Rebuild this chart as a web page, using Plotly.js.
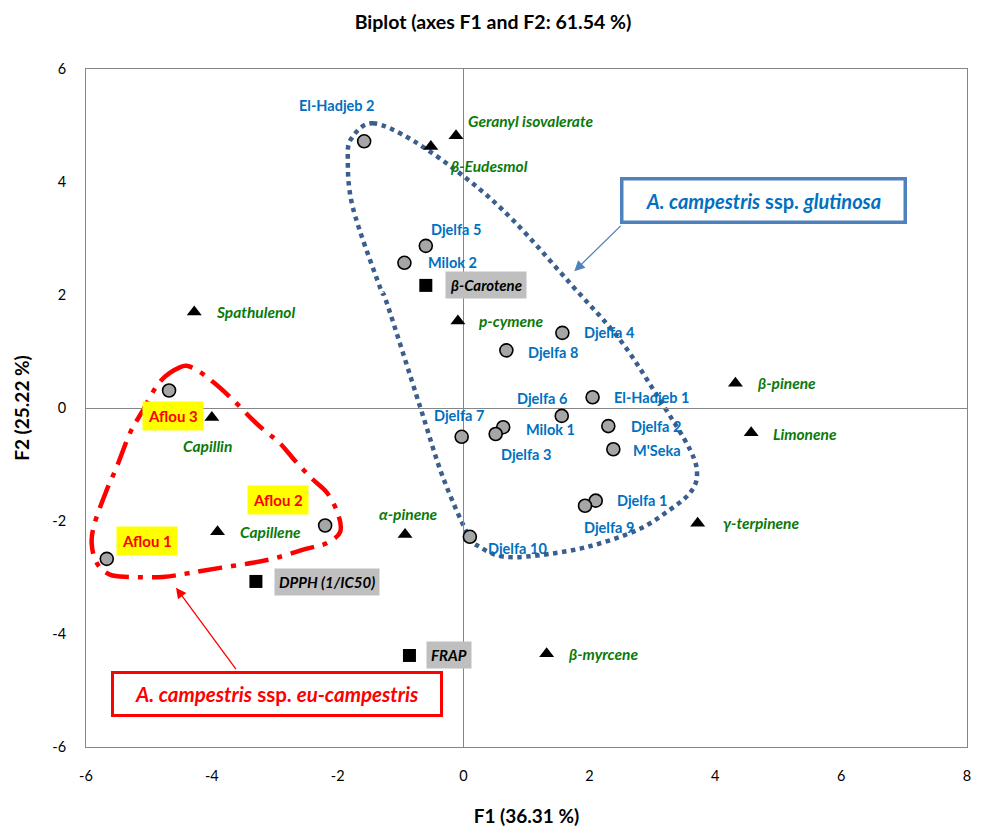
<!DOCTYPE html>
<html>
<head>
<meta charset="utf-8">
<script src="https://cdn.plot.ly/plotly-3.0.1.min.js"></script>
<style>html,body{margin:0;padding:0;background:#fff;}#chart{width:986px;height:827px;}</style>
</head>
<body>
<div id="chart"></div>
<script>
// ---- Data ----
const sampleNames = ["El-Hadjeb 2","Djelfa 5","Milok 2","Djelfa 4","Djelfa 8","El-Hadjeb 1","Djelfa 6","Milok 1","Djelfa 3","Djelfa 7","Djelfa 2","M'Seka","Djelfa 1","Djelfa 9","Djelfa 10","Aflou 3","Aflou 2","Aflou 1"];
const sampleF1 = [-1.58,-0.60,-0.94,1.57,0.68,2.05,1.56,0.63,0.51,-0.03,2.30,2.38,2.10,1.93,0.10,-4.68,-2.20,-5.67];
const sampleF2 = [4.72,2.87,2.57,1.33,1.02,0.19,-0.14,-0.34,-0.46,-0.51,-0.32,-0.73,-1.64,-1.73,-2.28,0.31,-2.08,-2.67];

const compoundNames = ["Geranyl isovalerate","β-Eudesmol","Spathulenol","p-cymene","β-pinene","Limonene","γ-terpinene","β-myrcene","Capillin","Capillene","α-pinene"];
const compoundF1 = [-0.12,-0.52,-4.28,-0.09,4.32,4.57,3.72,1.32,-4.00,-3.91,-0.93];
const compoundF2 = [4.82,4.63,1.70,1.54,0.44,-0.44,-2.04,-4.35,-0.17,-2.19,-2.24];

const activityNames = ["β-Carotene","DPPH (1/IC50)","FRAP"];
const activityF1 = [-0.60,-3.30,-0.86];
const activityF2 = [2.17,-3.07,-4.38];

const tickVals = [-6,-4,-2,0,2,4,6,8];
const tickText = ["-6","-4","-2","0","2","4","6","8"];
const yTickVals = [-6,-4,-2,0,2,4,6];
const yTickText = ["-6","-4","-2","0","2","4","6"];

// ---- Label placement (pixel offsets from each point) ----
const sampleLabelShift = [[-28,36],[30,16],[48,0],[47,0],[47,-2],[59,0],[-20,17],[47,-2],[30,-21],[-3,21],[48,0],[44,-1],[46,0],[24,-22],[48,-12],[4,-26],[-47,26],[40,18]];
const compoundLabelShift = [[74,15],[58,-20],[61,0],[54,0],[51,0],[54,-1],[63,0],[56,0],[-4,-28],[53,0],[3,21]];
const activityLabelShift = [[60,0],[71,-1],[40,0]];

// ---- Decorative group outlines (data coordinates) ----
const glutinosaLoopX = [-1.44,-0.80,0.06,0.79,1.69,2.49,3.12,3.60,3.71,3.60,3.28,2.76,1.96,1.17,0.63,0.26,0.07,-0.33,-0.69,-1.22,-1.33,-1.76,-1.84,-1.77];
const glutinosaLoopY = [5.04,4.73,4.05,3.32,2.21,1.20,0.14,-0.74,-1.18,-1.50,-1.80,-2.16,-2.46,-2.61,-2.63,-2.46,-2.24,-1.22,0.02,1.86,2.14,3.55,4.43,4.79];
const eucampLoopX = [-4.51,-4.83,-5.11,-5.30,-5.51,-5.67,-5.86,-5.91,-5.83,-5.62,-5.30,-4.78,-4.35,-3.87,-3.35,-2.97,-2.49,-2.17,-1.96,-2.00,-2.17,-2.39,-2.65,-2.92,-3.12,-3.35,-3.66,-3.98,-4.30];
const eucampLoopY = [0.72,0.46,-0.07,-0.44,-1.04,-1.45,-2.03,-2.39,-2.74,-2.95,-2.99,-2.99,-2.92,-2.83,-2.74,-2.65,-2.49,-2.39,-2.19,-1.86,-1.50,-1.27,-0.97,-0.62,-0.44,-0.21,0.14,0.46,0.71];

function smoothClosedPath(xs, ys) {
  const n = xs.length;
  let d = "M" + xs[0] + "," + ys[0];
  for (let i = 0; i < n; i++) {
    const i0 = (i - 1 + n) % n, i1 = i, i2 = (i + 1) % n, i3 = (i + 2) % n;
    const c1x = xs[i1] + (xs[i2] - xs[i0]) / 6, c1y = ys[i1] + (ys[i2] - ys[i0]) / 6;
    const c2x = xs[i2] - (xs[i3] - xs[i1]) / 6, c2y = ys[i2] - (ys[i3] - ys[i1]) / 6;
    d += " C" + c1x.toFixed(3) + "," + c1y.toFixed(3) + " " + c2x.toFixed(3) + "," + c2y.toFixed(3) + " " + xs[i2] + "," + ys[i2];
  }
  return d + " Z";
}

const FONT = "Lato, 'Open Sans', sans-serif";
const BLUE_TXT = "#0070C0";
const GREEN_TXT = "#0A7A0A";

const traces = [
  {type:"scatter", mode:"markers", x:sampleF1, y:sampleF2, hoverinfo:"none",
   marker:{symbol:"circle", size:13, color:"#A6A6A6", line:{color:"#000", width:1.6}}},
  {type:"scatter", mode:"markers", x:compoundF1, y:compoundF2, hoverinfo:"none",
   marker:{symbol:"triangle-up", size:13, color:"#000"}},
  {type:"scatter", mode:"markers", x:activityF1, y:activityF2, hoverinfo:"none",
   marker:{symbol:"square", size:13, color:"#000"}}
];

const annotations = [];
sampleNames.forEach((n, i) => {
  const aflou = n.startsWith("Aflou");
  annotations.push({x:sampleF1[i], y:sampleF2[i], xref:"x", yref:"y", text:"<b>"+n+"</b>", showarrow:false,
    xshift:sampleLabelShift[i][0], yshift:sampleLabelShift[i][1], xanchor:"center", yanchor:"middle",
    font:{family:FONT, size: aflou ? 15 : 14.5, color: aflou ? "#FF0000" : BLUE_TXT},
    bgcolor: aflou ? "#FFFF00" : "rgba(0,0,0,0)", borderpad: aflou ? 5 : 0});
});
compoundNames.forEach((n, i) => {
  annotations.push({x:compoundF1[i], y:compoundF2[i], xref:"x", yref:"y", text:"<b><i>"+n+"</i></b>", showarrow:false,
    xshift:compoundLabelShift[i][0], yshift:compoundLabelShift[i][1], xanchor:"center", yanchor:"middle",
    font:{family:FONT, size:15.5, color:GREEN_TXT}});
});
activityNames.forEach((n, i) => {
  annotations.push({x:activityF1[i], y:activityF2[i], xref:"x", yref:"y", text:"<b><i>"+n+"</i></b>", showarrow:false,
    xshift:activityLabelShift[i][0], yshift:activityLabelShift[i][1], xanchor:"center", yanchor:"middle",
    font:{family:FONT, size:15, color:"#000"}, bgcolor:"#BFBFBF", borderpad:4});
});

// callout boxes and arrows
annotations.push({x:4.77, y:3.67, xref:"x", yref:"y", showarrow:false,
  text:"<b><i>A. campestris</i> ssp. <i>glutinosa</i></b>", font:{family:FONT, size:20, color:BLUE_TXT},
  bordercolor:"#4F81BD", borderwidth:3.5, borderpad:0, width:280, height:40, bgcolor:"#fff"});
annotations.push({x:1.76, y:2.42, xref:"x", yref:"y", ax:2.52, ay:3.25, axref:"x", ayref:"y", text:"",
  showarrow:true, arrowhead:2, arrowsize:1.6, arrowwidth:1.3, arrowcolor:"#4F81BD"});
annotations.push({x:-2.97, y:-5.06, xref:"x", yref:"y", showarrow:false,
  text:"<b><i>A. campestris</i> ssp. <i>eu-campestris</i></b>", font:{family:FONT, size:20.5, color:"#FF0000"},
  bordercolor:"#FF0000", borderwidth:3, borderpad:0, width:326, height:40, bgcolor:"#fff"});
annotations.push({x:-4.57, y:-3.18, xref:"x", yref:"y", ax:-3.60, ay:-4.65, axref:"x", ayref:"y", text:"",
  showarrow:true, arrowhead:2, arrowsize:1.6, arrowwidth:1.3, arrowcolor:"#FF0000"});

const shapes = [
  {type:"path", xref:"x", yref:"y", layer:"below", path:smoothClosedPath(glutinosaLoopX, glutinosaLoopY),
   line:{color:"#3B5E8C", width:4.5, dash:"dot"}},
  {type:"path", xref:"x", yref:"y", layer:"below", path:smoothClosedPath(eucampLoopX, eucampLoopY),
   line:{color:"#FF0000", width:4.5, dash:"24px,9px,5px,9px"}}
];

const GRAY = "#868686";
const tickAxisCommon = {range:[-6,8], showgrid:false, zeroline:false, showline:false, showticklabels:false,
  ticklen:4, tickcolor:GRAY, tickwidth:1, fixedrange:true};
const yTickAxisCommon = {range:[-6,6], showgrid:false, zeroline:false, showline:false, showticklabels:false,
  ticklen:4, tickcolor:GRAY, tickwidth:1, fixedrange:true};

const layout = {
  width:986, height:827,
  margin:{l:86, r:19, t:69, b:80},
  paper_bgcolor:"#fff", plot_bgcolor:"#fff",
  showlegend:false,
  font:{family:FONT, color:"#000"},
  title:{text:"<b>Biplot (axes F1 and F2: 61.54 %)</b>", x:0.5, xref:"container", y:0.973, yref:"container", yanchor:"middle",
    font:{family:FONT, size:19.5, color:"#000"}},
  xaxis:{range:[-6,8], tickmode:"array", tickvals:tickVals, ticktext:tickText, showgrid:false,
    zeroline:true, zerolinecolor:GRAY, zerolinewidth:1, showline:true, mirror:true, linecolor:GRAY, linewidth:1,
    ticks:"outside", ticklen:16, tickcolor:"rgba(0,0,0,0)", tickfont:{family:FONT, size:14.5, color:"#000"},
    title:{text:"<b>F1 (36.31 %)</b>", font:{family:FONT, size:19, color:"#000"}, standoff:26}, fixedrange:true},
  yaxis:{range:[-6,6], tickmode:"array", tickvals:yTickVals, ticktext:yTickText, showgrid:false,
    zeroline:true, zerolinecolor:GRAY, zerolinewidth:1, showline:true, mirror:true, linecolor:GRAY, linewidth:1,
    ticks:"outside", ticklen:16, tickcolor:"rgba(0,0,0,0)", tickfont:{family:FONT, size:14.5, color:"#000"},
    title:{text:"<b>F2 (25.22 %)</b>", font:{family:FONT, size:19, color:"#000"}, standoff:17}, fixedrange:true},
  xaxis2:Object.assign({overlaying:"x", anchor:"free", position:0.5, side:"bottom", ticks:"outside",
    tickmode:"array", tickvals:[-4,-2,2,4,6]}, tickAxisCommon),
  xaxis3:Object.assign({overlaying:"x", anchor:"free", position:0.5, side:"top", ticks:"outside",
    tickmode:"array", tickvals:[-4,-2,2,4,6]}, tickAxisCommon),
  yaxis2:Object.assign({overlaying:"y", anchor:"free", position:6/14, side:"left", ticks:"outside",
    tickmode:"array", tickvals:[-4,-2,2,4]}, yTickAxisCommon),
  yaxis3:Object.assign({overlaying:"y", anchor:"free", position:6/14, side:"right", ticks:"outside",
    tickmode:"array", tickvals:[-4,-2,2,4]}, yTickAxisCommon),
  shapes:shapes,
  annotations:annotations
};

Plotly.newPlot("chart", traces, layout, {staticPlot:true, displayModeBar:false});
</script>
</body>
</html>
